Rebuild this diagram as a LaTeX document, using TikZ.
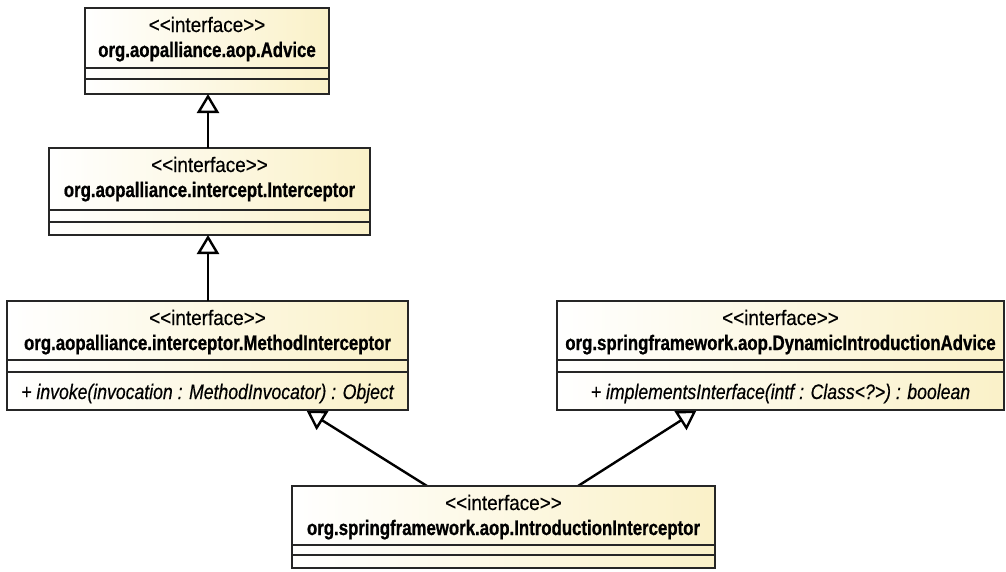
\documentclass[tikz,border=0pt]{standalone}
\usepackage{fontspec}
\setmainfont{Liberation Sans}
\newfontfamily\stereofont{Liberation Sans}[FakeStretch=0.9, FakeBold=0.4]
\newfontfamily\namefont{Liberation Sans}[FakeStretch=0.8, BoldFeatures={FakeBold=0.8}]
\newfontfamily\opfont{Liberation Sans}[FakeStretch=0.84, ItalicFeatures={FakeBold=0.4}]
\usetikzlibrary{arrows.meta}

\definecolor{umlcream}{RGB}{250,241,200}
\definecolor{umlline}{RGB}{38,38,38}

\tikzset{
  umlbox/.style={rectangle, draw=umlline, line width=2.2pt, inner sep=0pt,
    outer sep=0pt, anchor=north west, left color=white, right color=umlcream},
  compline/.style={draw=umlline, line width=1.6pt},
  stereo/.style={anchor=base, inner sep=0pt, text=black,
    font=\stereofont\fontsize{21}{23}\selectfont},
  ifname/.style={anchor=base, inner sep=0pt, text=black,
    font=\namefont\bfseries\fontsize{21}{23}\selectfont},
  operation/.style={anchor=base, inner sep=0pt, text=black,
    font=\opfont\itshape\fontsize{21}{23}\selectfont},
  realizes/.style={draw=black, line width=2.4pt,
    -{Triangle[open, fill=white, width=22pt, length=19pt, line width=2.4pt]}},
}

% interface box: name, left, top, right, bottom, first rule, second rule, title
\newcommand\umliface[8]{%
  \node[umlbox, minimum width={(#4-#2)*1pt}, minimum height={(#5-#3)*1pt}]
    (#1) at (#2,#3) {};
  \draw[compline] (#2,#6) -- (#4,#6);
  \draw[compline] (#2,#7) -- (#4,#7);
  \node[stereo] (#1-st) at ({(#2+#4)/2},{#3+24}) {<{}<interface>{}>};
  \node[ifname] (#1-nm) at ({(#2+#4)/2},{#3+49}) {#8};
}

\begin{document}
\begin{tikzpicture}[x=1pt,y=-1pt]
  \useasboundingbox (0,0) rectangle (1006,571);

  % anchor points of the generalisation connectors
  \coordinate (axis) at (208,0);
  \coordinate (tipL) at (306.5,410.5);
  \coordinate (tipR) at (696.5,410.5);
  \coordinate (startL) at (427,486);
  \coordinate (startR) at (578,486);

  % diagonal connectors first, so the boxes cover their tips
  \draw[realizes] (startL) -- (tipL);
  \draw[realizes] (startR) -- (tipR);

  \umliface{advice}{85}{8}{329}{94}{68}{79}{org.aopalliance.aop.Advice}
  \umliface{interceptor}{49}{148}{370}{235}{210}{222}{org.aopalliance.intercept.Interceptor}
  \umliface{methodint}{7}{301}{408}{410}{360}{372}{org.aopalliance.interceptor.MethodInterceptor}
  \umliface{dynadvice}{557}{301}{1004}{410}{360}{372}{org.springframework.aop.DynamicIntroductionAdvice}
  \umliface{introint}{292}{486}{715}{568}{545}{555}{org.springframework.aop.IntroductionInterceptor}

  \node[operation] (methodint-op) at (207.5,399)
    {+ invoke(invocation : MethodInvocator) : Object};
  \node[operation] (dynadvice-op) at (780.5,399)
    {+ implementsInterface(intf : Class<?>) : boolean};

  % vertical connectors
  \draw[realizes] (interceptor.north -| axis) -- (advice.south -| axis);
  \draw[realizes] (methodint.north -| axis) -- (interceptor.south -| axis);
\end{tikzpicture}
\end{document}
